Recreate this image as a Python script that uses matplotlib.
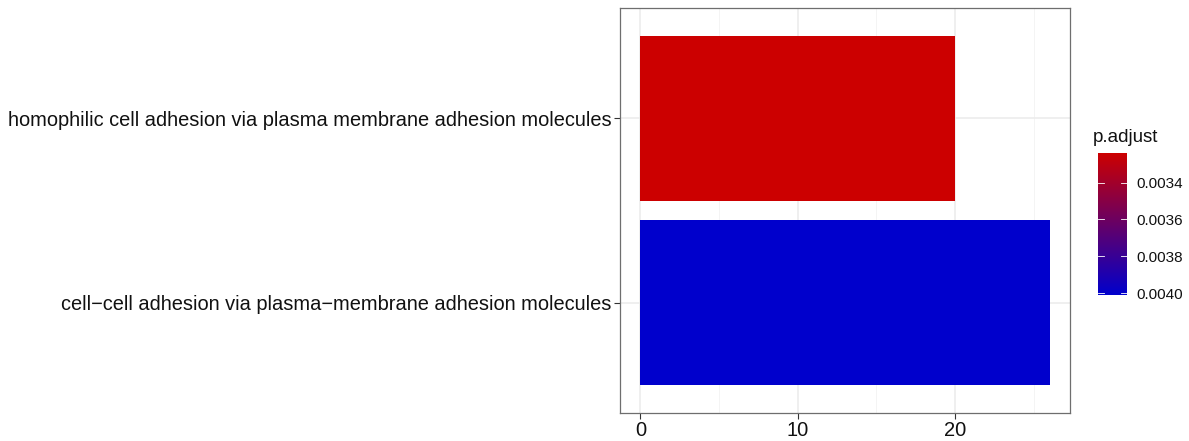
import matplotlib
matplotlib.use("Agg")
import matplotlib.pyplot as plt
import numpy as np
from matplotlib.colors import LinearSegmentedColormap, Normalize
from matplotlib.cm import ScalarMappable

# --------------- 数据 ---------------
terms = [
    "cell\u2212cell adhesion via plasma\u2212membrane adhesion molecules",
    "homophilic cell adhesion via plasma membrane adhesion molecules",
]
counts = [26, 20]
p_adjust = [0.00401, 0.00324]
x_ticks = [0, 10, 20]
cbar_ticks = [0.0034, 0.0036, 0.0038, 0.0040]

plt.rcParams["font.family"] = ["Liberation Sans", "DejaVu Sans"]

cmap = LinearSegmentedColormap.from_list("pad", ["#CC0000", "#0000CC"])
norm = Normalize(vmin=min(p_adjust), vmax=max(p_adjust))

fig = plt.figure(figsize=(11.89, 4.41), dpi=100)
ax = fig.add_axes([620 / 1189, 28 / 441, 450 / 1189, 405 / 441])

ypos = np.arange(1, len(terms) + 1)
ax.barh(ypos, counts, height=0.9, color=[cmap(norm(p)) for p in p_adjust], zorder=3)

xmax = max(counts)
ax.set_xlim(-0.05 * xmax, 1.05 * xmax)
ax.set_ylim(0.4, len(terms) + 0.6)
ax.set_xticks(x_ticks)
ax.set_xticks([5, 15, 25], minor=True)
ax.set_yticks(ypos)
ax.set_yticklabels(terms)

ax.grid(which="major", color="#EBEBEB", linewidth=1.1, zorder=0)
ax.grid(which="minor", axis="x", color="#F3F3F3", linewidth=0.6, zorder=0)
ax.tick_params(axis="both", which="major", length=4, width=0.8, color="#333333",
               labelcolor="#111111")
ax.tick_params(axis="y", labelsize=14.4, pad=2)
ax.tick_params(axis="x", labelsize=14.5, pad=1.5)
ax.tick_params(which="minor", length=0)
for s in ax.spines.values():
    s.set_color("#6E6E6E")
    s.set_linewidth(0.9)

# --------------- 颜色条 ---------------
cax = fig.add_axes([1098 / 1189, 146 / 441, 29 / 1189, 142 / 441])
sm = ScalarMappable(norm=norm, cmap=cmap)
cb = fig.colorbar(sm, cax=cax)
cb.set_ticks(cbar_ticks)
cb.set_ticklabels([f"{t:.4f}" for t in cbar_ticks])
cax.invert_yaxis()
cb.outline.set_visible(False)
cax.tick_params(length=0, labelsize=11, labelcolor="#111111", pad=7)
for t in cbar_ticks:
    cax.plot([0, 0.2], [t, t], color="white", lw=0.6, transform=cax.get_yaxis_transform())
    cax.plot([0.8, 1], [t, t], color="white", lw=0.6, transform=cax.get_yaxis_transform())
fig.text(1093 / 1189, 1 - 142 / 441, "p.adjust", fontsize=13.5, color="#111111",
         ha="left", va="baseline")

fig.savefig("out.png", dpi=100)
